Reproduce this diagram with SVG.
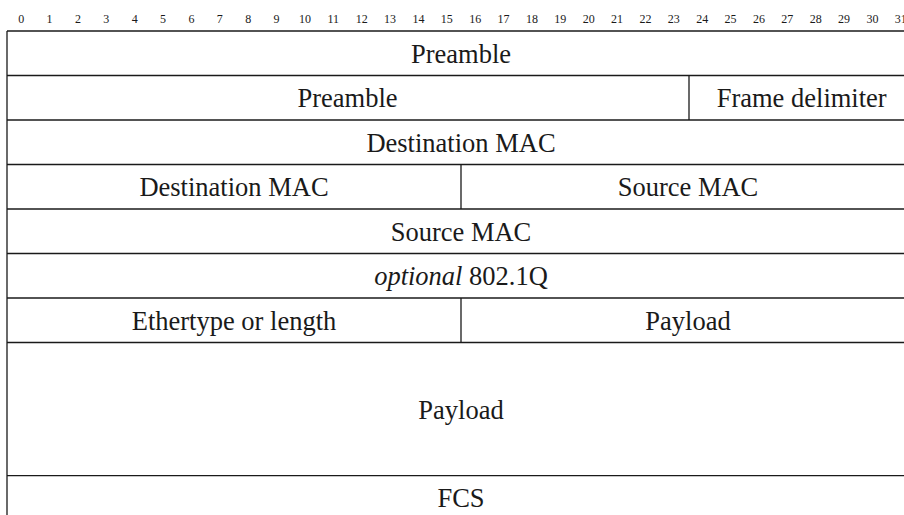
<svg xmlns="http://www.w3.org/2000/svg" width="904" height="515" viewBox="0 0 904 515">
<style>
.ln{stroke:#1a1a1a;stroke-width:1.3;fill:none}
.t{font-family:"Liberation Serif","DejaVu Serif",serif;font-size:26.5px;fill:#1a1a1a;text-anchor:middle}
.r{font-family:"Liberation Serif","DejaVu Serif",serif;font-size:12px;fill:#1a1a1a;text-anchor:middle}
</style>
<rect width="904" height="515" fill="#ffffff"/>
<g id="ruler">
<text class="r" x="21.2" y="22.7">0</text><text class="r" x="49.6" y="22.7">1</text><text class="r" x="77.9" y="22.7">2</text><text class="r" x="106.3" y="22.7">3</text><text class="r" x="134.7" y="22.7">4</text><text class="r" x="163.1" y="22.7">5</text><text class="r" x="191.4" y="22.7">6</text><text class="r" x="219.8" y="22.7">7</text><text class="r" x="248.2" y="22.7">8</text><text class="r" x="276.6" y="22.7">9</text><text class="r" x="304.9" y="22.7">10</text><text class="r" x="333.3" y="22.7">11</text><text class="r" x="361.7" y="22.7">12</text><text class="r" x="390.1" y="22.7">13</text><text class="r" x="418.4" y="22.7">14</text><text class="r" x="446.8" y="22.7">15</text><text class="r" x="475.2" y="22.7">16</text><text class="r" x="503.6" y="22.7">17</text><text class="r" x="531.9" y="22.7">18</text><text class="r" x="560.3" y="22.7">19</text><text class="r" x="588.7" y="22.7">20</text><text class="r" x="617.1" y="22.7">21</text><text class="r" x="645.4" y="22.7">22</text><text class="r" x="673.8" y="22.7">23</text><text class="r" x="702.2" y="22.7">24</text><text class="r" x="730.6" y="22.7">25</text><text class="r" x="758.9" y="22.7">26</text><text class="r" x="787.3" y="22.7">27</text><text class="r" x="815.7" y="22.7">28</text><text class="r" x="844.1" y="22.7">29</text><text class="r" x="872.4" y="22.7">30</text><text class="r" x="900.8" y="22.7">31</text>
</g>
<g id="grid">
<line class="ln" x1="7" y1="31" x2="916" y2="31"/>
<line class="ln" x1="7" y1="75.5" x2="916" y2="75.5"/>
<line class="ln" x1="7" y1="120" x2="916" y2="120"/>
<line class="ln" x1="7" y1="164.5" x2="916" y2="164.5"/>
<line class="ln" x1="7" y1="209" x2="916" y2="209"/>
<line class="ln" x1="7" y1="253.5" x2="916" y2="253.5"/>
<line class="ln" x1="7" y1="298" x2="916" y2="298"/>
<line class="ln" x1="7" y1="342.5" x2="916" y2="342.5"/>
<line class="ln" x1="7" y1="475.7" x2="916" y2="475.7"/>
<line class="ln" x1="7" y1="31" x2="7" y2="520"/>
</g>
<g id="preamble1"><text class="t" x="461" y="62.5">Preamble</text></g>
<g id="preamble2"><line class="ln" x1="689" y1="75.5" x2="689" y2="120"/><text class="t" x="347.5" y="107">Preamble</text></g>
<g id="framedelim"><text class="t" x="801.7" y="107">Frame delimiter</text></g>
<g id="dest1"><text class="t" x="461" y="151.5">Destination MAC</text></g>
<g id="dest2"><line class="ln" x1="461" y1="164.5" x2="461" y2="209"/><text class="t" x="234" y="196">Destination MAC</text></g>
<g id="src1"><text class="t" x="688" y="196">Source MAC</text></g>
<g id="src2"><text class="t" x="461" y="240.5">Source MAC</text></g>
<g id="vlan"><text class="t" x="461" y="285"><tspan font-style="italic">optional</tspan> 802.1Q</text></g>
<g id="ethertype"><line class="ln" x1="461" y1="298" x2="461" y2="342.5"/><text class="t" x="234" y="329.5">Ethertype or length</text></g>
<g id="payload1"><text class="t" x="688" y="329.5">Payload</text></g>
<g id="payload2"><text class="t" x="461" y="418.5">Payload</text></g>
<g id="fcs"><text class="t" x="461" y="507">FCS</text></g>
</svg>
